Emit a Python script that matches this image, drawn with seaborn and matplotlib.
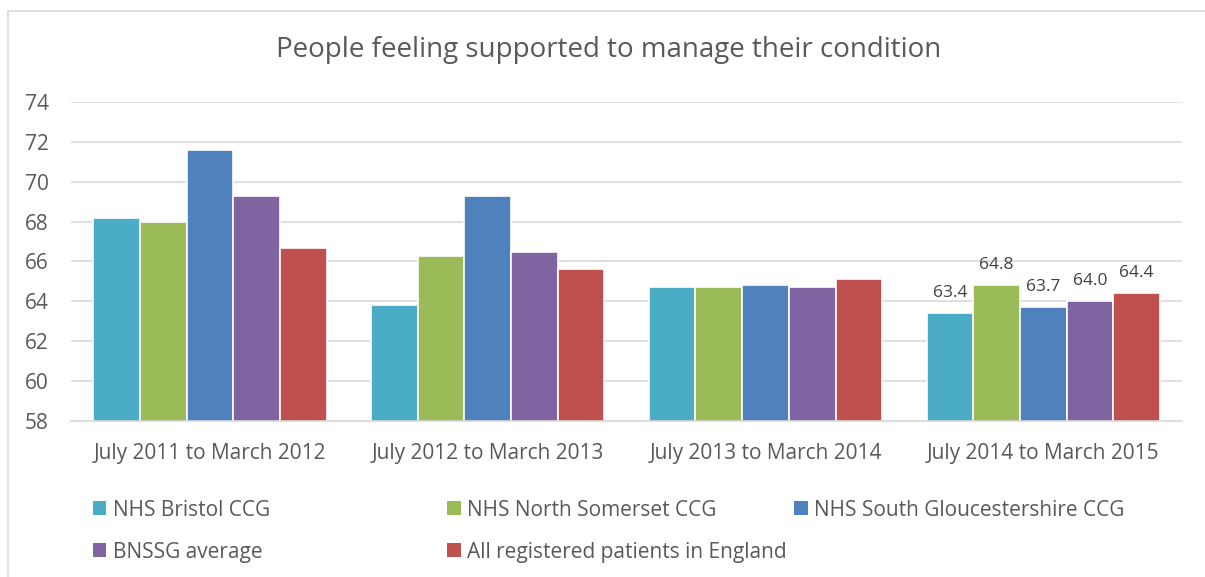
import matplotlib

matplotlib.use("Agg")
import matplotlib.pyplot as plt
import numpy as np
import pandas as pd
import seaborn as sns
from matplotlib.patches import Patch, Rectangle

# ---------------------------------------------------------------------------
# Data
# ---------------------------------------------------------------------------
periods = [
    "July 2011 to March 2012",
    "July 2012 to March 2013",
    "July 2013 to March 2014",
    "July 2014 to March 2015",
]
series_names = [
    "NHS Bristol CCG",
    "NHS North Somerset CCG",
    "NHS South Gloucestershire CCG",
    "BNSSG average",
    "All registered patients in England",
]
bristol = [68.2, 63.8, 64.7, 63.4]
north_somerset = [68.0, 66.3, 64.7, 64.8]
south_glos = [71.6, 69.3, 64.8, 63.7]
bnssg = [69.3, 66.5, 64.7, 64.0]
england = [66.7, 65.6, 65.1, 64.4]
y_ticks = [58, 60, 62, 64, 66, 68, 70, 72, 74]

colors = ["#4BACC6", "#9BBB59", "#4F81BD", "#8064A2", "#C0504D"]
text_grey = "#595959"

df = pd.DataFrame({
    "period": periods * 5,
    "series": np.repeat(series_names, len(periods)),
    "value": bristol + north_somerset + south_glos + bnssg + england,
})

sns.set_theme(style="white")
plt.rcParams["font.family"] = ["Open Sans", "DejaVu Sans"]

fig = plt.figure(figsize=(12.05, 5.77), dpi=100)
ax = fig.add_axes([0.0589, 0.2704, 0.9222, 0.5528])

sns.barplot(data=df, x="period", y="value", hue="series", order=periods,
            hue_order=series_names, palette=colors, saturation=1, width=0.84,
            edgecolor="white", linewidth=1.2, legend=False, ax=ax)

ax.set_ylim(58, 74)
ax.set_yticks(y_ticks)
ax.set_xlim(-0.5, len(periods) - 0.5)
ax.yaxis.grid(True, color="#D9D9D9", linewidth=1.2)
ax.set_axisbelow(True)
for side in ["top", "right", "left"]:
    ax.spines[side].set_visible(False)
ax.spines["bottom"].set_color("#D9D9D9")
ax.spines["bottom"].set_linewidth(1.2)
ax.tick_params(axis="both", length=0, colors=text_grey, labelsize=15)
ax.tick_params(axis="x", pad=16)
ax.tick_params(axis="y", pad=16)
ax.set_xlabel("")
ax.set_ylabel("")

# data labels only on the latest period
for cont in ax.containers:
    labels = ["" for _ in cont.datavalues]
    labels[-1] = f"{cont.datavalues[-1]:.1f}"
    ax.bar_label(cont, labels=labels, padding=9, fontsize=12.5, color="#404040")

fig.text(0.505, 0.913, "People feeling supported to manage their condition",
         ha="center", va="center", fontsize=20, color=text_grey)

# legend laid out in three columns, like the original
handles = [Patch(facecolor=c, edgecolor="none") for c in colors]
columns = [([0, 3], 0.077), ([1, 4], 0.371), ([2], 0.659)]
for idx, x0 in columns:
    fig.legend([handles[i] for i in idx], [series_names[i] for i in idx],
               loc="upper left", bbox_to_anchor=(x0, 0.134),
               frameon=False, fontsize=15, labelcolor=text_grey,
               handlelength=0.65, handleheight=0.65, handletextpad=0.3,
               labelspacing=1.0, borderaxespad=0, borderpad=0)

# light chart frame
fig.patches.append(Rectangle((8 / 1205, -0.1), 1.1, 1 - 11 / 577 + 0.1,
                             transform=fig.transFigure, fill=False,
                             edgecolor="#D9D9D9", linewidth=1.2))

fig.savefig("out.png", dpi=100)
